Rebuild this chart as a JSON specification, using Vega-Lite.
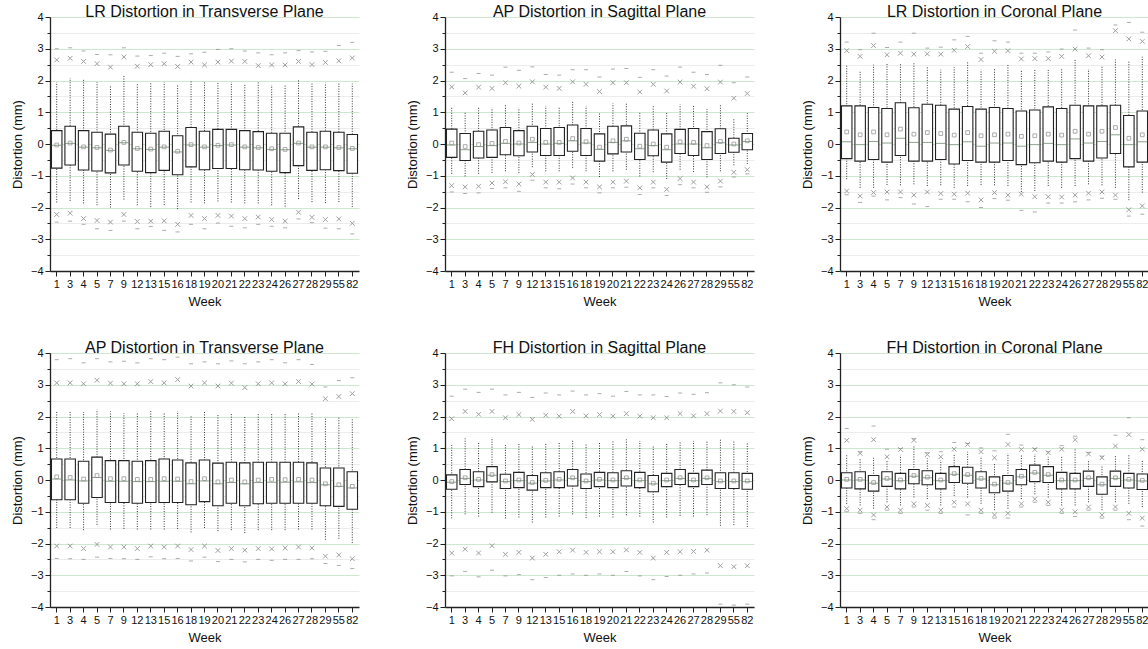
{
"$schema": "https://vega.github.io/schema/vega-lite/v6.json",
"padding": {"left": 11, "top": 4, "right": 0, "bottom": 0},
"background": "white",
"config": {
  "font": "Liberation Sans",
  "view": {"stroke": null},
  "axis": {"labelFontSize": 11, "titleFontSize": 13, "titleFontWeight": "normal", "labelColor": "#111", "titleColor": "#111", "domainColor": "#222", "domainWidth": 1.3, "tickColor": "#222", "tickWidth": 1},
  "title": {"fontSize": 16, "fontWeight": "normal", "offset": -9, "color": "#111", "frame": "group", "anchor": "middle"}
},
"datasets": {"d": [
{"p":"A","w":"1","q1":-0.76,"q3":0.42,"md":-0.04,"mn":-0.03,"wl":-1.84,"wh":1.95,"xl":-2.22,"xh":2.65,"dl":-2.46,"dh":3.00},
{"p":"A","w":"3","q1":-0.66,"q3":0.56,"md":0.02,"mn":0.03,"wl":-1.79,"wh":2.08,"xl":-2.18,"xh":2.70,"dl":-2.43,"dh":3.03},
{"p":"A","w":"4","q1":-0.82,"q3":0.42,"md":-0.10,"mn":-0.09,"wl":-1.87,"wh":2.02,"xl":-2.35,"xh":2.60,"dl":-2.53,"dh":2.93},
{"p":"A","w":"5","q1":-0.85,"q3":0.37,"md":-0.12,"mn":-0.11,"wl":-1.93,"wh":1.95,"xl":-2.41,"xh":2.53,"dl":-2.67,"dh":2.82},
{"p":"A","w":"7","q1":-0.91,"q3":0.31,"md":-0.20,"mn":-0.19,"wl":-2.00,"wh":1.86,"xl":-2.46,"xh":2.42,"dl":-2.72,"dh":2.81},
{"p":"A","w":"9","q1":-0.66,"q3":0.56,"md":0.04,"mn":0.05,"wl":-1.75,"wh":2.14,"xl":-2.22,"xh":2.74,"dl":-2.43,"dh":3.03},
{"p":"A","w":"12","q1":-0.86,"q3":0.37,"md":-0.15,"mn":-0.14,"wl":-1.93,"wh":1.93,"xl":-2.44,"xh":2.45,"dl":-2.67,"dh":2.77},
{"p":"A","w":"13","q1":-0.90,"q3":0.34,"md":-0.17,"mn":-0.16,"wl":-1.98,"wh":1.92,"xl":-2.43,"xh":2.50,"dl":-2.60,"dh":2.79},
{"p":"A","w":"15","q1":-0.83,"q3":0.40,"md":-0.10,"mn":-0.09,"wl":-1.92,"wh":1.95,"xl":-2.42,"xh":2.53,"dl":-2.72,"dh":2.86},
{"p":"A","w":"16","q1":-0.97,"q3":0.26,"md":-0.25,"mn":-0.23,"wl":-2.05,"wh":1.89,"xl":-2.53,"xh":2.44,"dl":-2.77,"dh":2.76},
{"p":"A","w":"18","q1":-0.72,"q3":0.52,"md":-0.03,"mn":-0.02,"wl":-1.84,"wh":2.02,"xl":-2.25,"xh":2.58,"dl":-2.53,"dh":2.84},
{"p":"A","w":"19","q1":-0.81,"q3":0.40,"md":-0.10,"mn":-0.09,"wl":-1.87,"wh":1.95,"xl":-2.35,"xh":2.49,"dl":-2.67,"dh":2.89},
{"p":"A","w":"20","q1":-0.77,"q3":0.46,"md":-0.05,"mn":-0.04,"wl":-1.81,"wh":1.95,"xl":-2.25,"xh":2.58,"dl":-2.49,"dh":2.98},
{"p":"A","w":"21","q1":-0.77,"q3":0.46,"md":-0.03,"mn":-0.02,"wl":-1.84,"wh":1.95,"xl":-2.27,"xh":2.61,"dl":-2.59,"dh":3.00},
{"p":"A","w":"22","q1":-0.81,"q3":0.42,"md":-0.10,"mn":-0.09,"wl":-1.87,"wh":1.90,"xl":-2.35,"xh":2.60,"dl":-2.64,"dh":2.93},
{"p":"A","w":"23","q1":-0.82,"q3":0.39,"md":-0.12,"mn":-0.11,"wl":-1.87,"wh":1.97,"xl":-2.30,"xh":2.47,"dl":-2.53,"dh":2.87},
{"p":"A","w":"24","q1":-0.86,"q3":0.34,"md":-0.17,"mn":-0.15,"wl":-1.93,"wh":1.86,"xl":-2.38,"xh":2.49,"dl":-2.59,"dh":2.81},
{"p":"A","w":"26","q1":-0.90,"q3":0.34,"md":-0.18,"mn":-0.17,"wl":-1.97,"wh":1.86,"xl":-2.43,"xh":2.49,"dl":-2.64,"dh":2.87},
{"p":"A","w":"27","q1":-0.68,"q3":0.54,"md":0.02,"mn":0.03,"wl":-1.73,"wh":2.03,"xl":-2.15,"xh":2.60,"dl":-2.36,"dh":2.94},
{"p":"A","w":"28","q1":-0.83,"q3":0.37,"md":-0.10,"mn":-0.09,"wl":-1.83,"wh":1.93,"xl":-2.31,"xh":2.50,"dl":-2.48,"dh":2.90},
{"p":"A","w":"29","q1":-0.81,"q3":0.40,"md":-0.10,"mn":-0.09,"wl":-1.86,"wh":1.93,"xl":-2.38,"xh":2.57,"dl":-2.65,"dh":2.92},
{"p":"A","w":"55","q1":-0.84,"q3":0.37,"md":-0.12,"mn":-0.11,"wl":-1.83,"wh":1.93,"xl":-2.36,"xh":2.62,"dl":-2.67,"dh":3.10},
{"p":"A","w":"82","q1":-0.92,"q3":0.30,"md":-0.15,"mn":-0.14,"wl":-1.98,"wh":1.90,"xl":-2.50,"xh":2.71,"dl":-2.83,"dh":3.20},

{"p":"B","w":"1","q1":-0.42,"q3":0.47,"md":-0.03,"mn":0.03,"wl":-0.94,"wh":1.17,"xl":-1.31,"xh":1.80,"dl":-1.51,"dh":2.26},
{"p":"B","w":"3","q1":-0.52,"q3":0.33,"md":-0.18,"mn":-0.08,"wl":-1.02,"wh":0.99,"xl":-1.35,"xh":1.61,"dl":-1.56,"dh":2.06},
{"p":"B","w":"4","q1":-0.44,"q3":0.40,"md":-0.08,"mn":-0.02,"wl":-0.94,"wh":1.16,"xl":-1.33,"xh":1.79,"dl":-1.54,"dh":2.22},
{"p":"B","w":"5","q1":-0.42,"q3":0.44,"md":-0.05,"mn":0.02,"wl":-0.91,"wh":1.14,"xl":-1.23,"xh":1.75,"dl":-1.40,"dh":2.17},
{"p":"B","w":"7","q1":-0.34,"q3":0.52,"md":0.02,"mn":0.08,"wl":-0.86,"wh":1.23,"xl":-1.19,"xh":1.93,"dl":-1.38,"dh":2.42},
{"p":"B","w":"9","q1":-0.37,"q3":0.42,"md":0.00,"mn":0.03,"wl":-0.91,"wh":1.14,"xl":-1.26,"xh":1.82,"dl":-1.49,"dh":2.32},
{"p":"B","w":"12","q1":-0.25,"q3":0.56,"md":0.05,"mn":0.15,"wl":-0.73,"wh":1.30,"xl":-0.96,"xh":1.96,"dl":-1.14,"dh":2.43},
{"p":"B","w":"13","q1":-0.36,"q3":0.49,"md":0.00,"mn":0.05,"wl":-0.86,"wh":1.20,"xl":-1.20,"xh":1.79,"dl":-1.38,"dh":2.19},
{"p":"B","w":"15","q1":-0.36,"q3":0.52,"md":0.02,"mn":0.05,"wl":-0.86,"wh":1.16,"xl":-1.20,"xh":1.75,"dl":-1.41,"dh":2.17},
{"p":"B","w":"16","q1":-0.23,"q3":0.60,"md":0.10,"mn":0.17,"wl":-0.75,"wh":1.33,"xl":-1.07,"xh":1.96,"dl":-1.26,"dh":2.34},
{"p":"B","w":"18","q1":-0.36,"q3":0.49,"md":0.03,"mn":0.07,"wl":-0.86,"wh":1.20,"xl":-1.20,"xh":1.88,"dl":-1.38,"dh":2.34},
{"p":"B","w":"19","q1":-0.54,"q3":0.32,"md":-0.17,"mn":-0.10,"wl":-1.04,"wh":1.00,"xl":-1.35,"xh":1.65,"dl":-1.54,"dh":2.11},
{"p":"B","w":"20","q1":-0.31,"q3":0.56,"md":0.05,"mn":0.10,"wl":-0.86,"wh":1.28,"xl":-1.20,"xh":1.93,"dl":-1.38,"dh":2.36},
{"p":"B","w":"21","q1":-0.25,"q3":0.57,"md":0.10,"mn":0.15,"wl":-0.81,"wh":1.28,"xl":-1.17,"xh":1.93,"dl":-1.36,"dh":2.38},
{"p":"B","w":"22","q1":-0.49,"q3":0.34,"md":-0.15,"mn":-0.07,"wl":-1.02,"wh":0.99,"xl":-1.38,"xh":1.64,"dl":-1.59,"dh":2.10},
{"p":"B","w":"23","q1":-0.37,"q3":0.44,"md":-0.05,"mn":0.00,"wl":-0.89,"wh":1.22,"xl":-1.20,"xh":1.88,"dl":-1.38,"dh":2.34},
{"p":"B","w":"24","q1":-0.57,"q3":0.32,"md":-0.18,"mn":-0.10,"wl":-1.10,"wh":1.00,"xl":-1.43,"xh":1.67,"dl":-1.62,"dh":2.14},
{"p":"B","w":"26","q1":-0.30,"q3":0.46,"md":0.00,"mn":0.07,"wl":-0.81,"wh":1.25,"xl":-1.09,"xh":1.95,"dl":-1.28,"dh":2.42},
{"p":"B","w":"27","q1":-0.36,"q3":0.49,"md":0.00,"mn":0.05,"wl":-0.88,"wh":1.20,"xl":-1.20,"xh":1.82,"dl":-1.38,"dh":2.26},
{"p":"B","w":"28","q1":-0.49,"q3":0.39,"md":-0.12,"mn":-0.05,"wl":-1.05,"wh":1.10,"xl":-1.35,"xh":1.74,"dl":-1.52,"dh":2.19},
{"p":"B","w":"29","q1":-0.30,"q3":0.48,"md":0.04,"mn":0.08,"wl":-0.86,"wh":1.22,"xl":-1.17,"xh":1.95,"dl":-1.35,"dh":2.48},
{"p":"B","w":"55","q1":-0.26,"q3":0.18,"md":-0.03,"mn":0.00,"wl":-0.67,"wh":0.81,"xl":-0.89,"xh":1.44,"dl":-1.04,"dh":1.93},
{"p":"B","w":"82","q1":-0.18,"q3":0.33,"md":0.08,"mn":0.10,"wl":-0.63,"wh":0.97,"xl":-0.81,"xh":1.59,"dl":-0.94,"dh":2.11},

{"p":"C","w":"1","q1":-0.46,"q3":1.20,"md":0.07,"mn":0.38,"wl":-1.11,"wh":2.48,"xl":-1.48,"xh":2.94,"dl":-1.60,"dh":3.21},
{"p":"C","w":"3","q1":-0.54,"q3":1.20,"md":-0.02,"mn":0.29,"wl":-1.38,"wh":2.32,"xl":-1.64,"xh":2.76,"dl":-1.84,"dh":2.97},
{"p":"C","w":"4","q1":-0.49,"q3":1.15,"md":0.08,"mn":0.38,"wl":-1.38,"wh":2.50,"xl":-1.53,"xh":3.10,"dl":-1.64,"dh":3.49},
{"p":"C","w":"5","q1":-0.57,"q3":1.12,"md":0.03,"mn":0.29,"wl":-1.29,"wh":2.52,"xl":-1.51,"xh":2.81,"dl":-1.76,"dh":3.04},
{"p":"C","w":"7","q1":-0.36,"q3":1.30,"md":0.18,"mn":0.47,"wl":-1.30,"wh":2.52,"xl":-1.51,"xh":2.86,"dl":-1.69,"dh":3.21},
{"p":"C","w":"9","q1":-0.54,"q3":1.14,"md":0.05,"mn":0.31,"wl":-1.27,"wh":2.57,"xl":-1.61,"xh":2.83,"dl":-1.89,"dh":3.49},
{"p":"C","w":"12","q1":-0.54,"q3":1.25,"md":0.05,"mn":0.36,"wl":-1.32,"wh":2.45,"xl":-1.51,"xh":2.84,"dl":-1.97,"dh":3.02},
{"p":"C","w":"13","q1":-0.49,"q3":1.22,"md":0.02,"mn":0.33,"wl":-1.30,"wh":2.34,"xl":-1.56,"xh":2.83,"dl":-1.74,"dh":3.05},
{"p":"C","w":"15","q1":-0.63,"q3":1.10,"md":-0.02,"mn":0.28,"wl":-1.38,"wh":2.42,"xl":-1.58,"xh":2.95,"dl":-1.74,"dh":3.28},
{"p":"C","w":"16","q1":-0.52,"q3":1.18,"md":0.07,"mn":0.36,"wl":-1.32,"wh":2.60,"xl":-1.55,"xh":3.07,"dl":-1.82,"dh":3.39},
{"p":"C","w":"18","q1":-0.57,"q3":1.10,"md":-0.07,"mn":0.26,"wl":-1.29,"wh":2.34,"xl":-1.76,"xh":2.66,"dl":-2.00,"dh":2.86},
{"p":"C","w":"19","q1":-0.57,"q3":1.15,"md":0.03,"mn":0.29,"wl":-1.30,"wh":2.40,"xl":-1.53,"xh":2.92,"dl":-1.72,"dh":3.25},
{"p":"C","w":"20","q1":-0.52,"q3":1.12,"md":0.03,"mn":0.31,"wl":-1.32,"wh":2.52,"xl":-1.61,"xh":2.94,"dl":-1.77,"dh":3.21},
{"p":"C","w":"21","q1":-0.65,"q3":1.04,"md":-0.07,"mn":0.24,"wl":-1.51,"wh":2.32,"xl":-1.58,"xh":2.68,"dl":-2.09,"dh":2.86},
{"p":"C","w":"22","q1":-0.59,"q3":1.07,"md":-0.02,"mn":0.26,"wl":-1.48,"wh":2.34,"xl":-1.66,"xh":2.69,"dl":-2.14,"dh":2.86},
{"p":"C","w":"23","q1":-0.54,"q3":1.17,"md":0.02,"mn":0.31,"wl":-1.32,"wh":2.36,"xl":-1.66,"xh":2.69,"dl":-1.86,"dh":2.90},
{"p":"C","w":"24","q1":-0.57,"q3":1.12,"md":-0.02,"mn":0.28,"wl":-1.38,"wh":2.40,"xl":-1.67,"xh":2.76,"dl":-1.86,"dh":2.99},
{"p":"C","w":"26","q1":-0.46,"q3":1.22,"md":0.16,"mn":0.40,"wl":-1.32,"wh":2.66,"xl":-1.61,"xh":2.99,"dl":-1.82,"dh":3.59},
{"p":"C","w":"27","q1":-0.54,"q3":1.20,"md":0.03,"mn":0.31,"wl":-1.27,"wh":2.36,"xl":-1.55,"xh":2.78,"dl":-1.76,"dh":3.02},
{"p":"C","w":"28","q1":-0.44,"q3":1.20,"md":0.08,"mn":0.40,"wl":-1.30,"wh":2.45,"xl":-1.51,"xh":2.74,"dl":-1.71,"dh":2.97},
{"p":"C","w":"29","q1":-0.30,"q3":1.22,"md":0.29,"mn":0.52,"wl":-1.38,"wh":2.66,"xl":-1.61,"xh":3.57,"dl":-1.74,"dh":3.75},
{"p":"C","w":"55","q1":-0.72,"q3":0.90,"md":-0.02,"mn":0.18,"wl":-1.77,"wh":2.60,"xl":-2.07,"xh":3.31,"dl":-2.27,"dh":3.83},
{"p":"C","w":"82","q1":-0.57,"q3":1.04,"md":0.07,"mn":0.29,"wl":-1.53,"wh":2.75,"xl":-1.95,"xh":3.23,"dl":-2.21,"dh":3.52},

{"p":"D","w":"1","q1":-0.62,"q3":0.66,"md":0.03,"mn":0.10,"wl":-1.51,"wh":2.17,"xl":-2.08,"xh":3.06,"dl":-2.47,"dh":3.79},
{"p":"D","w":"3","q1":-0.62,"q3":0.66,"md":0.00,"mn":0.08,"wl":-1.51,"wh":2.17,"xl":-2.08,"xh":3.06,"dl":-2.48,"dh":3.82},
{"p":"D","w":"4","q1":-0.73,"q3":0.59,"md":-0.03,"mn":0.03,"wl":-1.58,"wh":2.14,"xl":-2.16,"xh":3.03,"dl":-2.50,"dh":3.69},
{"p":"D","w":"5","q1":-0.55,"q3":0.72,"md":0.08,"mn":0.14,"wl":-1.41,"wh":2.22,"xl":-2.03,"xh":3.14,"dl":-2.43,"dh":3.82},
{"p":"D","w":"7","q1":-0.71,"q3":0.61,"md":-0.04,"mn":0.04,"wl":-1.56,"wh":2.16,"xl":-2.11,"xh":3.05,"dl":-2.47,"dh":3.72},
{"p":"D","w":"9","q1":-0.71,"q3":0.61,"md":-0.04,"mn":0.04,"wl":-1.54,"wh":2.10,"xl":-2.11,"xh":3.03,"dl":-2.48,"dh":3.74},
{"p":"D","w":"12","q1":-0.73,"q3":0.59,"md":-0.05,"mn":0.02,"wl":-1.56,"wh":2.14,"xl":-2.16,"xh":3.03,"dl":-2.50,"dh":3.69},
{"p":"D","w":"13","q1":-0.71,"q3":0.61,"md":-0.05,"mn":0.02,"wl":-1.56,"wh":2.17,"xl":-2.08,"xh":3.10,"dl":-2.42,"dh":3.82},
{"p":"D","w":"15","q1":-0.71,"q3":0.66,"md":-0.04,"mn":0.04,"wl":-1.56,"wh":2.14,"xl":-2.11,"xh":3.06,"dl":-2.48,"dh":3.79},
{"p":"D","w":"16","q1":-0.71,"q3":0.63,"md":-0.04,"mn":0.03,"wl":-1.54,"wh":2.17,"xl":-2.08,"xh":3.16,"dl":-2.47,"dh":3.87},
{"p":"D","w":"18","q1":-0.78,"q3":0.54,"md":-0.12,"mn":-0.05,"wl":-1.65,"wh":2.03,"xl":-2.19,"xh":2.96,"dl":-2.55,"dh":3.66},
{"p":"D","w":"19","q1":-0.68,"q3":0.63,"md":-0.03,"mn":0.04,"wl":-1.51,"wh":2.17,"xl":-2.08,"xh":3.06,"dl":-2.43,"dh":3.72},
{"p":"D","w":"20","q1":-0.81,"q3":0.53,"md":-0.12,"mn":-0.06,"wl":-1.61,"wh":2.06,"xl":-2.22,"xh":2.96,"dl":-2.57,"dh":3.66},
{"p":"D","w":"21","q1":-0.73,"q3":0.56,"md":-0.08,"mn":0.00,"wl":-1.58,"wh":2.08,"xl":-2.16,"xh":3.05,"dl":-2.50,"dh":3.75},
{"p":"D","w":"22","q1":-0.81,"q3":0.54,"md":-0.12,"mn":-0.06,"wl":-1.67,"wh":2.00,"xl":-2.21,"xh":2.91,"dl":-2.58,"dh":3.66},
{"p":"D","w":"23","q1":-0.75,"q3":0.56,"md":-0.08,"mn":0.00,"wl":-1.58,"wh":2.08,"xl":-2.16,"xh":3.03,"dl":-2.50,"dh":3.72},
{"p":"D","w":"24","q1":-0.73,"q3":0.56,"md":-0.07,"mn":0.02,"wl":-1.58,"wh":2.12,"xl":-2.17,"xh":3.06,"dl":-2.53,"dh":3.79},
{"p":"D","w":"26","q1":-0.73,"q3":0.56,"md":-0.07,"mn":0.01,"wl":-1.58,"wh":2.12,"xl":-2.14,"xh":3.03,"dl":-2.50,"dh":3.69},
{"p":"D","w":"27","q1":-0.73,"q3":0.56,"md":-0.06,"mn":0.02,"wl":-1.56,"wh":2.12,"xl":-2.11,"xh":3.10,"dl":-2.50,"dh":3.79},
{"p":"D","w":"28","q1":-0.73,"q3":0.54,"md":-0.08,"mn":0.00,"wl":-1.56,"wh":2.12,"xl":-2.14,"xh":3.02,"dl":-2.48,"dh":3.64},
{"p":"D","w":"29","q1":-0.81,"q3":0.38,"md":-0.15,"mn":-0.12,"wl":-1.88,"wh":1.95,"xl":-2.40,"xh":2.56,"dl":-2.63,"dh":2.93},
{"p":"D","w":"55","q1":-0.83,"q3":0.38,"md":-0.20,"mn":-0.15,"wl":-1.85,"wh":1.98,"xl":-2.36,"xh":2.63,"dl":-2.69,"dh":3.13},
{"p":"D","w":"82","q1":-0.92,"q3":0.26,"md":-0.25,"mn":-0.20,"wl":-1.98,"wh":1.96,"xl":-2.48,"xh":2.72,"dl":-2.79,"dh":3.22},

{"p":"E","w":"1","q1":-0.29,"q3":0.16,"md":-0.07,"mn":-0.05,"wl":-1.21,"wh":1.10,"xl":-2.30,"xh":1.93,"dl":-3.02,"dh":2.64},
{"p":"E","w":"3","q1":-0.14,"q3":0.33,"md":0.05,"mn":0.07,"wl":-1.08,"wh":1.31,"xl":-2.18,"xh":2.16,"dl":-2.88,"dh":2.86},
{"p":"E","w":"4","q1":-0.21,"q3":0.26,"md":0.00,"mn":0.02,"wl":-1.15,"wh":1.18,"xl":-2.30,"xh":2.07,"dl":-3.05,"dh":2.76},
{"p":"E","w":"5","q1":-0.06,"q3":0.42,"md":0.15,"mn":0.17,"wl":-1.03,"wh":1.34,"xl":-2.07,"xh":2.16,"dl":-2.84,"dh":2.86},
{"p":"E","w":"7","q1":-0.27,"q3":0.18,"md":-0.05,"mn":-0.03,"wl":-1.21,"wh":1.10,"xl":-2.34,"xh":1.96,"dl":-3.02,"dh":2.68},
{"p":"E","w":"9","q1":-0.24,"q3":0.24,"md":-0.02,"mn":0.00,"wl":-1.18,"wh":1.15,"xl":-2.28,"xh":2.06,"dl":-2.98,"dh":2.76},
{"p":"E","w":"12","q1":-0.32,"q3":0.14,"md":-0.10,"mn":-0.08,"wl":-1.34,"wh":1.07,"xl":-2.46,"xh":1.91,"dl":-3.14,"dh":2.60},
{"p":"E","w":"13","q1":-0.24,"q3":0.23,"md":-0.03,"mn":-0.01,"wl":-1.18,"wh":1.18,"xl":-2.34,"xh":2.04,"dl":-3.07,"dh":2.74},
{"p":"E","w":"15","q1":-0.24,"q3":0.26,"md":0.00,"mn":0.02,"wl":-1.15,"wh":1.20,"xl":-2.26,"xh":2.01,"dl":-3.00,"dh":2.68},
{"p":"E","w":"16","q1":-0.19,"q3":0.33,"md":0.05,"mn":0.07,"wl":-1.08,"wh":1.28,"xl":-2.21,"xh":2.16,"dl":-2.96,"dh":2.80},
{"p":"E","w":"18","q1":-0.27,"q3":0.19,"md":-0.05,"mn":-0.03,"wl":-1.20,"wh":1.15,"xl":-2.28,"xh":2.02,"dl":-3.00,"dh":2.68},
{"p":"E","w":"19","q1":-0.21,"q3":0.24,"md":0.00,"mn":0.02,"wl":-1.15,"wh":1.18,"xl":-2.26,"xh":2.06,"dl":-2.96,"dh":2.72},
{"p":"E","w":"20","q1":-0.24,"q3":0.23,"md":-0.02,"mn":0.00,"wl":-1.18,"wh":1.22,"xl":-2.26,"xh":2.01,"dl":-3.00,"dh":2.64},
{"p":"E","w":"21","q1":-0.19,"q3":0.29,"md":0.05,"mn":0.07,"wl":-1.11,"wh":1.28,"xl":-2.20,"xh":2.09,"dl":-2.88,"dh":2.79},
{"p":"E","w":"22","q1":-0.24,"q3":0.24,"md":-0.02,"mn":0.00,"wl":-1.15,"wh":1.23,"xl":-2.28,"xh":2.01,"dl":-3.02,"dh":2.68},
{"p":"E","w":"23","q1":-0.37,"q3":0.14,"md":-0.12,"mn":-0.10,"wl":-1.34,"wh":1.07,"xl":-2.46,"xh":1.96,"dl":-3.14,"dh":2.68},
{"p":"E","w":"24","q1":-0.21,"q3":0.21,"md":-0.02,"mn":0.00,"wl":-1.18,"wh":1.17,"xl":-2.28,"xh":1.96,"dl":-3.04,"dh":2.63},
{"p":"E","w":"26","q1":-0.14,"q3":0.33,"md":0.05,"mn":0.07,"wl":-1.13,"wh":1.20,"xl":-2.26,"xh":2.09,"dl":-3.00,"dh":2.74},
{"p":"E","w":"27","q1":-0.21,"q3":0.21,"md":-0.02,"mn":0.00,"wl":-1.15,"wh":1.23,"xl":-2.25,"xh":2.02,"dl":-2.96,"dh":2.70},
{"p":"E","w":"28","q1":-0.14,"q3":0.31,"md":0.05,"mn":0.07,"wl":-1.11,"wh":1.25,"xl":-2.21,"xh":2.09,"dl":-2.93,"dh":2.75},
{"p":"E","w":"29","q1":-0.27,"q3":0.23,"md":-0.05,"mn":-0.03,"wl":-1.44,"wh":1.27,"xl":-2.70,"xh":2.17,"dl":-3.91,"dh":3.06},
{"p":"E","w":"55","q1":-0.27,"q3":0.23,"md":-0.05,"mn":-0.03,"wl":-1.42,"wh":1.23,"xl":-2.73,"xh":2.16,"dl":-3.94,"dh":3.00},
{"p":"E","w":"82","q1":-0.29,"q3":0.21,"md":-0.05,"mn":-0.03,"wl":-1.48,"wh":1.20,"xl":-2.70,"xh":2.12,"dl":-3.91,"dh":2.93},

{"p":"F","w":"1","q1":-0.25,"q3":0.23,"md":0.00,"mn":0.02,"wl":-0.75,"wh":0.80,"xl":-0.90,"xh":1.25,"dl":-1.00,"dh":1.62},
{"p":"F","w":"3","q1":-0.28,"q3":0.26,"md":0.00,"mn":0.02,"wl":-0.80,"wh":0.65,"xl":-0.95,"xh":0.84,"dl":-1.05,"dh":0.89},
{"p":"F","w":"4","q1":-0.35,"q3":0.14,"md":-0.10,"mn":-0.08,"wl":-0.90,"wh":0.70,"xl":-1.10,"xh":1.27,"dl":-1.25,"dh":1.70},
{"p":"F","w":"5","q1":-0.20,"q3":0.26,"md":0.03,"mn":0.05,"wl":-0.70,"wh":0.60,"xl":-0.85,"xh":0.73,"dl":-0.95,"dh":0.97},
{"p":"F","w":"7","q1":-0.28,"q3":0.21,"md":-0.02,"mn":0.00,"wl":-0.80,"wh":0.78,"xl":-0.95,"xh":0.96,"dl":-1.05,"dh":0.99},
{"p":"F","w":"9","q1":-0.12,"q3":0.33,"md":0.12,"mn":0.14,"wl":-0.55,"wh":1.10,"xl":-0.75,"xh":1.25,"dl":-0.85,"dh":1.30},
{"p":"F","w":"12","q1":-0.15,"q3":0.29,"md":0.07,"mn":0.09,"wl":-0.60,"wh":0.68,"xl":-0.80,"xh":0.80,"dl":-0.95,"dh":0.86},
{"p":"F","w":"13","q1":-0.28,"q3":0.21,"md":-0.02,"mn":0.00,"wl":-0.80,"wh":0.63,"xl":-0.95,"xh":0.73,"dl":-1.05,"dh":0.89},
{"p":"F","w":"15","q1":-0.08,"q3":0.42,"md":0.18,"mn":0.20,"wl":-0.50,"wh":0.84,"xl":-0.70,"xh":0.97,"dl":-0.85,"dh":1.18},
{"p":"F","w":"16","q1":-0.10,"q3":0.40,"md":0.15,"mn":0.17,"wl":-0.55,"wh":0.89,"xl":-0.75,"xh":1.12,"dl":-1.10,"dh":1.15},
{"p":"F","w":"18","q1":-0.25,"q3":0.26,"md":0.03,"mn":0.05,"wl":-0.75,"wh":0.75,"xl":-0.95,"xh":0.89,"dl":-1.05,"dh":1.01},
{"p":"F","w":"19","q1":-0.40,"q3":0.10,"md":-0.15,"mn":-0.13,"wl":-0.95,"wh":0.54,"xl":-1.10,"xh":0.70,"dl":-1.20,"dh":0.92},
{"p":"F","w":"20","q1":-0.35,"q3":0.14,"md":-0.10,"mn":-0.08,"wl":-0.90,"wh":0.84,"xl":-1.05,"xh":1.12,"dl":-1.20,"dh":1.44},
{"p":"F","w":"21","q1":-0.15,"q3":0.33,"md":0.10,"mn":0.12,"wl":-0.60,"wh":0.78,"xl":-0.75,"xh":0.96,"dl":-0.85,"dh":1.10},
{"p":"F","w":"22","q1":-0.05,"q3":0.47,"md":0.22,"mn":0.24,"wl":-0.45,"wh":0.82,"xl":-0.60,"xh":0.96,"dl":-0.70,"dh":0.99},
{"p":"F","w":"23","q1":-0.08,"q3":0.42,"md":0.15,"mn":0.17,"wl":-0.55,"wh":0.73,"xl":-0.70,"xh":0.86,"dl":-0.80,"dh":0.89},
{"p":"F","w":"24","q1":-0.28,"q3":0.24,"md":-0.02,"mn":0.00,"wl":-0.80,"wh":0.73,"xl":-0.95,"xh":0.97,"dl":-1.05,"dh":1.08},
{"p":"F","w":"26","q1":-0.28,"q3":0.21,"md":-0.02,"mn":0.00,"wl":-0.80,"wh":0.99,"xl":-1.00,"xh":1.27,"dl":-1.15,"dh":1.38},
{"p":"F","w":"27","q1":-0.20,"q3":0.28,"md":0.05,"mn":0.07,"wl":-0.70,"wh":0.60,"xl":-0.85,"xh":0.82,"dl":-0.95,"dh":0.87},
{"p":"F","w":"28","q1":-0.45,"q3":0.10,"md":-0.15,"mn":-0.13,"wl":-0.95,"wh":0.47,"xl":-1.10,"xh":0.70,"dl":-1.20,"dh":0.75},
{"p":"F","w":"29","q1":-0.20,"q3":0.28,"md":0.05,"mn":0.07,"wl":-0.70,"wh":0.78,"xl":-0.85,"xh":1.07,"dl":-0.95,"dh":1.41},
{"p":"F","w":"55","q1":-0.25,"q3":0.21,"md":0.00,"mn":0.02,"wl":-0.75,"wh":0.78,"xl":-1.05,"xh":1.43,"dl":-1.25,"dh":1.96},
{"p":"F","w":"82","q1":-0.30,"q3":0.19,"md":-0.03,"mn":-0.01,"wl":-0.85,"wh":0.60,"xl":-1.20,"xh":0.97,"dl":-1.45,"dh":1.27}
]},
"vconcat": [
 {"hconcat": [
  {"title": "LR Distortion in Transverse Plane", "width": 309, "height": 254, "data": {"name": "d"}, "transform": [{"filter": {"field": "p", "equal": "A"}}],
   "encoding": {"x": {"field": "w", "type": "ordinal", "sort": null, "scale": {"paddingInner": 0, "paddingOuter": 0}, "axis": {"title": "Week", "labelAngle": 0, "tickSize": 5, "labelPadding": 2, "titlePadding": 6, "grid": false}}},
   "layer": [
    {"mark": {"type": "rule", "color": "#333", "strokeDash": [1, 1.5], "strokeWidth": 1}, "encoding": {"y": {"field": "wl", "type": "quantitative", "scale": {"domain": [-4, 4], "nice": false}, "axis": {"orient": "left", "title": "Distortion (mm)", "values": [-4, -3, -2, -1, 0, 1, 2, 3, 4], "grid": true, "gridColor": "#cfe6cf", "tickSize": 5, "titlePadding": 6}}, "y2": {"field": "wh"}}},
    {"mark": {"type": "bar", "fill": "white", "stroke": "#222", "strokeWidth": 1.1, "width": {"band": 0.78}}, "encoding": {"y": {"field": "q1", "type": "quantitative", "axis": {"orient": "left", "values": [-3.5, -2.5, -1.5, -0.5, 0.5, 1.5, 2.5, 3.5], "labels": false, "domain": false, "tickSize": 3, "title": null, "grid": true, "gridColor": "#e9eee9"}}, "y2": {"field": "q3"}}},
    {"mark": {"type": "tick", "color": "#5b7b5b", "strokeDash": [1.5, 1], "size": 10, "thickness": 1}, "encoding": {"y": {"field": "md", "type": "quantitative", "axis": null}}},
    {"mark": {"type": "point", "shape": "square", "filled": false, "size": 14, "color": "#888", "strokeWidth": 1}, "encoding": {"y": {"field": "mn", "type": "quantitative", "axis": null}}},
    {"transform": [{"fold": ["xl", "xh"], "as": ["k", "v"]}], "mark": {"type": "point", "shape": "M-1,-1L1,1M-1,1L1,-1", "filled": false, "size": 22, "color": "#777", "strokeWidth": 1}, "encoding": {"y": {"field": "v", "type": "quantitative", "axis": null}}},
    {"transform": [{"fold": ["dl", "dh"], "as": ["k", "v"]}], "mark": {"type": "tick", "color": "#888", "size": 4, "thickness": 1}, "encoding": {"y": {"field": "v", "type": "quantitative", "axis": null}}}
   ],
   "resolve": {"axis": {"y": "independent"}}},
  {"title": "AP Distortion in Sagittal Plane", "width": 309, "height": 254, "data": {"name": "d"}, "transform": [{"filter": {"field": "p", "equal": "B"}}],
   "encoding": {"x": {"field": "w", "type": "ordinal", "sort": null, "scale": {"paddingInner": 0, "paddingOuter": 0}, "axis": {"title": "Week", "labelAngle": 0, "tickSize": 5, "labelPadding": 2, "titlePadding": 6, "grid": false}}},
   "layer": [
    {"mark": {"type": "rule", "color": "#333", "strokeDash": [1, 1.5], "strokeWidth": 1}, "encoding": {"y": {"field": "wl", "type": "quantitative", "scale": {"domain": [-4, 4], "nice": false}, "axis": {"orient": "left", "title": "Distortion (mm)", "values": [-4, -3, -2, -1, 0, 1, 2, 3, 4], "grid": true, "gridColor": "#cfe6cf", "tickSize": 5, "titlePadding": 6}}, "y2": {"field": "wh"}}},
    {"mark": {"type": "bar", "fill": "white", "stroke": "#222", "strokeWidth": 1.1, "width": {"band": 0.78}}, "encoding": {"y": {"field": "q1", "type": "quantitative", "axis": {"orient": "left", "values": [-3.5, -2.5, -1.5, -0.5, 0.5, 1.5, 2.5, 3.5], "labels": false, "domain": false, "tickSize": 3, "title": null, "grid": true, "gridColor": "#e9eee9"}}, "y2": {"field": "q3"}}},
    {"mark": {"type": "tick", "color": "#5b7b5b", "strokeDash": [1.5, 1], "size": 10, "thickness": 1}, "encoding": {"y": {"field": "md", "type": "quantitative", "axis": null}}},
    {"mark": {"type": "point", "shape": "square", "filled": false, "size": 14, "color": "#888", "strokeWidth": 1}, "encoding": {"y": {"field": "mn", "type": "quantitative", "axis": null}}},
    {"transform": [{"fold": ["xl", "xh"], "as": ["k", "v"]}], "mark": {"type": "point", "shape": "M-1,-1L1,1M-1,1L1,-1", "filled": false, "size": 22, "color": "#777", "strokeWidth": 1}, "encoding": {"y": {"field": "v", "type": "quantitative", "axis": null}}},
    {"transform": [{"fold": ["dl", "dh"], "as": ["k", "v"]}], "mark": {"type": "tick", "color": "#888", "size": 4, "thickness": 1}, "encoding": {"y": {"field": "v", "type": "quantitative", "axis": null}}}
   ],
   "resolve": {"axis": {"y": "independent"}}},
  {"title": "LR Distortion in Coronal Plane", "width": 309, "height": 254, "data": {"name": "d"}, "transform": [{"filter": {"field": "p", "equal": "C"}}],
   "encoding": {"x": {"field": "w", "type": "ordinal", "sort": null, "scale": {"paddingInner": 0, "paddingOuter": 0}, "axis": {"title": "Week", "labelAngle": 0, "tickSize": 5, "labelPadding": 2, "titlePadding": 6, "grid": false}}},
   "layer": [
    {"mark": {"type": "rule", "color": "#333", "strokeDash": [1, 1.5], "strokeWidth": 1}, "encoding": {"y": {"field": "wl", "type": "quantitative", "scale": {"domain": [-4, 4], "nice": false}, "axis": {"orient": "left", "title": "Distortion (mm)", "values": [-4, -3, -2, -1, 0, 1, 2, 3, 4], "grid": true, "gridColor": "#cfe6cf", "tickSize": 5, "titlePadding": 6}}, "y2": {"field": "wh"}}},
    {"mark": {"type": "bar", "fill": "white", "stroke": "#222", "strokeWidth": 1.1, "width": {"band": 0.78}}, "encoding": {"y": {"field": "q1", "type": "quantitative", "axis": {"orient": "left", "values": [-3.5, -2.5, -1.5, -0.5, 0.5, 1.5, 2.5, 3.5], "labels": false, "domain": false, "tickSize": 3, "title": null, "grid": true, "gridColor": "#e9eee9"}}, "y2": {"field": "q3"}}},
    {"mark": {"type": "tick", "color": "#5b7b5b", "strokeDash": [1.5, 1], "size": 10, "thickness": 1}, "encoding": {"y": {"field": "md", "type": "quantitative", "axis": null}}},
    {"mark": {"type": "point", "shape": "square", "filled": false, "size": 14, "color": "#888", "strokeWidth": 1}, "encoding": {"y": {"field": "mn", "type": "quantitative", "axis": null}}},
    {"transform": [{"fold": ["xl", "xh"], "as": ["k", "v"]}], "mark": {"type": "point", "shape": "M-1,-1L1,1M-1,1L1,-1", "filled": false, "size": 22, "color": "#777", "strokeWidth": 1}, "encoding": {"y": {"field": "v", "type": "quantitative", "axis": null}}},
    {"transform": [{"fold": ["dl", "dh"], "as": ["k", "v"]}], "mark": {"type": "tick", "color": "#888", "size": 4, "thickness": 1}, "encoding": {"y": {"field": "v", "type": "quantitative", "axis": null}}}
   ],
   "resolve": {"axis": {"y": "independent"}}}
 ], "spacing": 47},
 {"hconcat": [
  {"title": "AP Distortion in Transverse Plane", "width": 309, "height": 254, "data": {"name": "d"}, "transform": [{"filter": {"field": "p", "equal": "D"}}],
   "encoding": {"x": {"field": "w", "type": "ordinal", "sort": null, "scale": {"paddingInner": 0, "paddingOuter": 0}, "axis": {"title": "Week", "labelAngle": 0, "tickSize": 5, "labelPadding": 2, "titlePadding": 6, "grid": false}}},
   "layer": [
    {"mark": {"type": "rule", "color": "#333", "strokeDash": [1, 1.5], "strokeWidth": 1}, "encoding": {"y": {"field": "wl", "type": "quantitative", "scale": {"domain": [-4, 4], "nice": false}, "axis": {"orient": "left", "title": "Distortion (mm)", "values": [-4, -3, -2, -1, 0, 1, 2, 3, 4], "grid": true, "gridColor": "#cfe6cf", "tickSize": 5, "titlePadding": 6}}, "y2": {"field": "wh"}}},
    {"mark": {"type": "bar", "fill": "white", "stroke": "#222", "strokeWidth": 1.1, "width": {"band": 0.78}}, "encoding": {"y": {"field": "q1", "type": "quantitative", "axis": {"orient": "left", "values": [-3.5, -2.5, -1.5, -0.5, 0.5, 1.5, 2.5, 3.5], "labels": false, "domain": false, "tickSize": 3, "title": null, "grid": true, "gridColor": "#e9eee9"}}, "y2": {"field": "q3"}}},
    {"mark": {"type": "tick", "color": "#5b7b5b", "strokeDash": [1.5, 1], "size": 10, "thickness": 1}, "encoding": {"y": {"field": "md", "type": "quantitative", "axis": null}}},
    {"mark": {"type": "point", "shape": "square", "filled": false, "size": 14, "color": "#888", "strokeWidth": 1}, "encoding": {"y": {"field": "mn", "type": "quantitative", "axis": null}}},
    {"transform": [{"fold": ["xl", "xh"], "as": ["k", "v"]}], "mark": {"type": "point", "shape": "M-1,-1L1,1M-1,1L1,-1", "filled": false, "size": 22, "color": "#777", "strokeWidth": 1}, "encoding": {"y": {"field": "v", "type": "quantitative", "axis": null}}},
    {"transform": [{"fold": ["dl", "dh"], "as": ["k", "v"]}], "mark": {"type": "tick", "color": "#888", "size": 4, "thickness": 1}, "encoding": {"y": {"field": "v", "type": "quantitative", "axis": null}}}
   ],
   "resolve": {"axis": {"y": "independent"}}},
  {"title": "FH Distortion in Sagittal Plane", "width": 309, "height": 254, "data": {"name": "d"}, "transform": [{"filter": {"field": "p", "equal": "E"}}],
   "encoding": {"x": {"field": "w", "type": "ordinal", "sort": null, "scale": {"paddingInner": 0, "paddingOuter": 0}, "axis": {"title": "Week", "labelAngle": 0, "tickSize": 5, "labelPadding": 2, "titlePadding": 6, "grid": false}}},
   "layer": [
    {"mark": {"type": "rule", "color": "#333", "strokeDash": [1, 1.5], "strokeWidth": 1}, "encoding": {"y": {"field": "wl", "type": "quantitative", "scale": {"domain": [-4, 4], "nice": false}, "axis": {"orient": "left", "title": "Distortion (mm)", "values": [-4, -3, -2, -1, 0, 1, 2, 3, 4], "grid": true, "gridColor": "#cfe6cf", "tickSize": 5, "titlePadding": 6}}, "y2": {"field": "wh"}}},
    {"mark": {"type": "bar", "fill": "white", "stroke": "#222", "strokeWidth": 1.1, "width": {"band": 0.78}}, "encoding": {"y": {"field": "q1", "type": "quantitative", "axis": {"orient": "left", "values": [-3.5, -2.5, -1.5, -0.5, 0.5, 1.5, 2.5, 3.5], "labels": false, "domain": false, "tickSize": 3, "title": null, "grid": true, "gridColor": "#e9eee9"}}, "y2": {"field": "q3"}}},
    {"mark": {"type": "tick", "color": "#5b7b5b", "strokeDash": [1.5, 1], "size": 10, "thickness": 1}, "encoding": {"y": {"field": "md", "type": "quantitative", "axis": null}}},
    {"mark": {"type": "point", "shape": "square", "filled": false, "size": 14, "color": "#888", "strokeWidth": 1}, "encoding": {"y": {"field": "mn", "type": "quantitative", "axis": null}}},
    {"transform": [{"fold": ["xl", "xh"], "as": ["k", "v"]}], "mark": {"type": "point", "shape": "M-1,-1L1,1M-1,1L1,-1", "filled": false, "size": 22, "color": "#777", "strokeWidth": 1}, "encoding": {"y": {"field": "v", "type": "quantitative", "axis": null}}},
    {"transform": [{"fold": ["dl", "dh"], "as": ["k", "v"]}], "mark": {"type": "tick", "color": "#888", "size": 4, "thickness": 1}, "encoding": {"y": {"field": "v", "type": "quantitative", "axis": null}}}
   ],
   "resolve": {"axis": {"y": "independent"}}},
  {"title": "FH Distortion in Coronal Plane", "width": 309, "height": 254, "data": {"name": "d"}, "transform": [{"filter": {"field": "p", "equal": "F"}}],
   "encoding": {"x": {"field": "w", "type": "ordinal", "sort": null, "scale": {"paddingInner": 0, "paddingOuter": 0}, "axis": {"title": "Week", "labelAngle": 0, "tickSize": 5, "labelPadding": 2, "titlePadding": 6, "grid": false}}},
   "layer": [
    {"mark": {"type": "rule", "color": "#333", "strokeDash": [1, 1.5], "strokeWidth": 1}, "encoding": {"y": {"field": "wl", "type": "quantitative", "scale": {"domain": [-4, 4], "nice": false}, "axis": {"orient": "left", "title": "Distortion (mm)", "values": [-4, -3, -2, -1, 0, 1, 2, 3, 4], "grid": true, "gridColor": "#cfe6cf", "tickSize": 5, "titlePadding": 6}}, "y2": {"field": "wh"}}},
    {"mark": {"type": "bar", "fill": "white", "stroke": "#222", "strokeWidth": 1.1, "width": {"band": 0.78}}, "encoding": {"y": {"field": "q1", "type": "quantitative", "axis": {"orient": "left", "values": [-3.5, -2.5, -1.5, -0.5, 0.5, 1.5, 2.5, 3.5], "labels": false, "domain": false, "tickSize": 3, "title": null, "grid": true, "gridColor": "#e9eee9"}}, "y2": {"field": "q3"}}},
    {"mark": {"type": "tick", "color": "#5b7b5b", "strokeDash": [1.5, 1], "size": 10, "thickness": 1}, "encoding": {"y": {"field": "md", "type": "quantitative", "axis": null}}},
    {"mark": {"type": "point", "shape": "square", "filled": false, "size": 14, "color": "#888", "strokeWidth": 1}, "encoding": {"y": {"field": "mn", "type": "quantitative", "axis": null}}},
    {"transform": [{"fold": ["xl", "xh"], "as": ["k", "v"]}], "mark": {"type": "point", "shape": "M-1,-1L1,1M-1,1L1,-1", "filled": false, "size": 22, "color": "#777", "strokeWidth": 1}, "encoding": {"y": {"field": "v", "type": "quantitative", "axis": null}}},
    {"transform": [{"fold": ["dl", "dh"], "as": ["k", "v"]}], "mark": {"type": "tick", "color": "#888", "size": 4, "thickness": 1}, "encoding": {"y": {"field": "v", "type": "quantitative", "axis": null}}}
   ],
   "resolve": {"axis": {"y": "independent"}}}
 ], "spacing": 47}
],
"spacing": 32
}
